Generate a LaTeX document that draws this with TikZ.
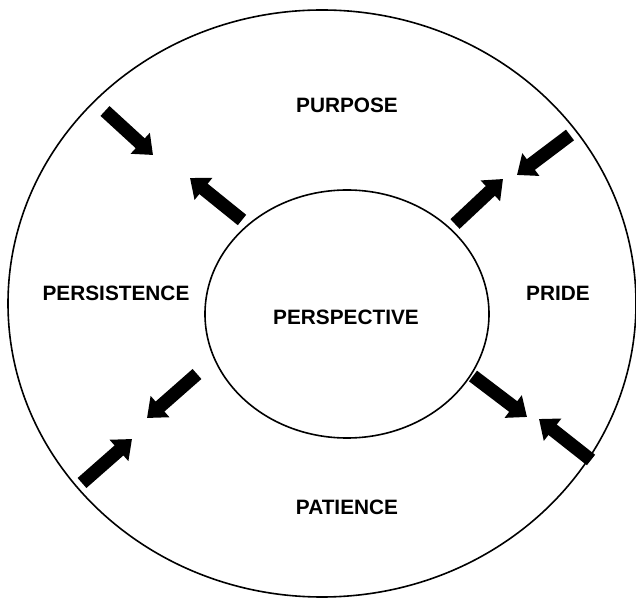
\documentclass[tikz,border=0pt]{standalone}
\usepackage{fontspec}
\setmainfont{Liberation Sans}
\usetikzlibrary{arrows.meta}
\begin{document}
\begin{tikzpicture}[x=0.75pt,y=-0.75pt,
  ring/.style={draw=black,line width=1.2pt,fill=none},
  lbl/.style={inner sep=0pt,font=\fontsize{15.6}{18}\selectfont\bfseries},
  blockarrow/.style={line width=10pt,-{Triangle[width=20.5pt,length=13pt]}}]
\useasboundingbox (0,0) rectangle (636,598);
\draw[ring] (322,303.5) ellipse [x radius=314, y radius=293.5];
\draw[ring] (347,314) ellipse [x radius=142, y radius=124];
\node[lbl] (purpose) at (347,105) {PURPOSE};
\node[lbl] (patience) at (347,507) {PATIENCE};
\node[lbl] (persistence) at (116,293) {PERSISTENCE};
\node[lbl] (pride) at (558,293) {PRIDE};
\node[lbl] (perspective) at (346,317) {PERSPECTIVE};
% arrow end points
\coordinate (ulinS) at (105,111);  \coordinate (ulinE) at (153,155);
\coordinate (uloutS) at (242,220); \coordinate (uloutE) at (190,178);
\coordinate (urinS) at (570,135);  \coordinate (urinE) at (517,175);
\coordinate (uroutS) at (455,224); \coordinate (uroutE) at (503,179);
\coordinate (lroutS) at (473,376); \coordinate (lroutE) at (527,417);
\coordinate (lrinS) at (591,460);  \coordinate (lrinE) at (539,419);
\coordinate (lloutS) at (197,374); \coordinate (lloutE) at (147,418);
\coordinate (llinS) at (82,483);   \coordinate (llinE) at (132,439);
\draw[blockarrow] (ulinS) -- (ulinE);
\draw[blockarrow] (uloutS) -- (uloutE);
\draw[blockarrow] (urinS) -- (urinE);
\draw[blockarrow] (uroutS) -- (uroutE);
\draw[blockarrow] (lroutS) -- (lroutE);
\draw[blockarrow] (lrinS) -- (lrinE);
\draw[blockarrow] (lloutS) -- (lloutE);
\draw[blockarrow] (llinS) -- (llinE);
\end{tikzpicture}
\end{document}
